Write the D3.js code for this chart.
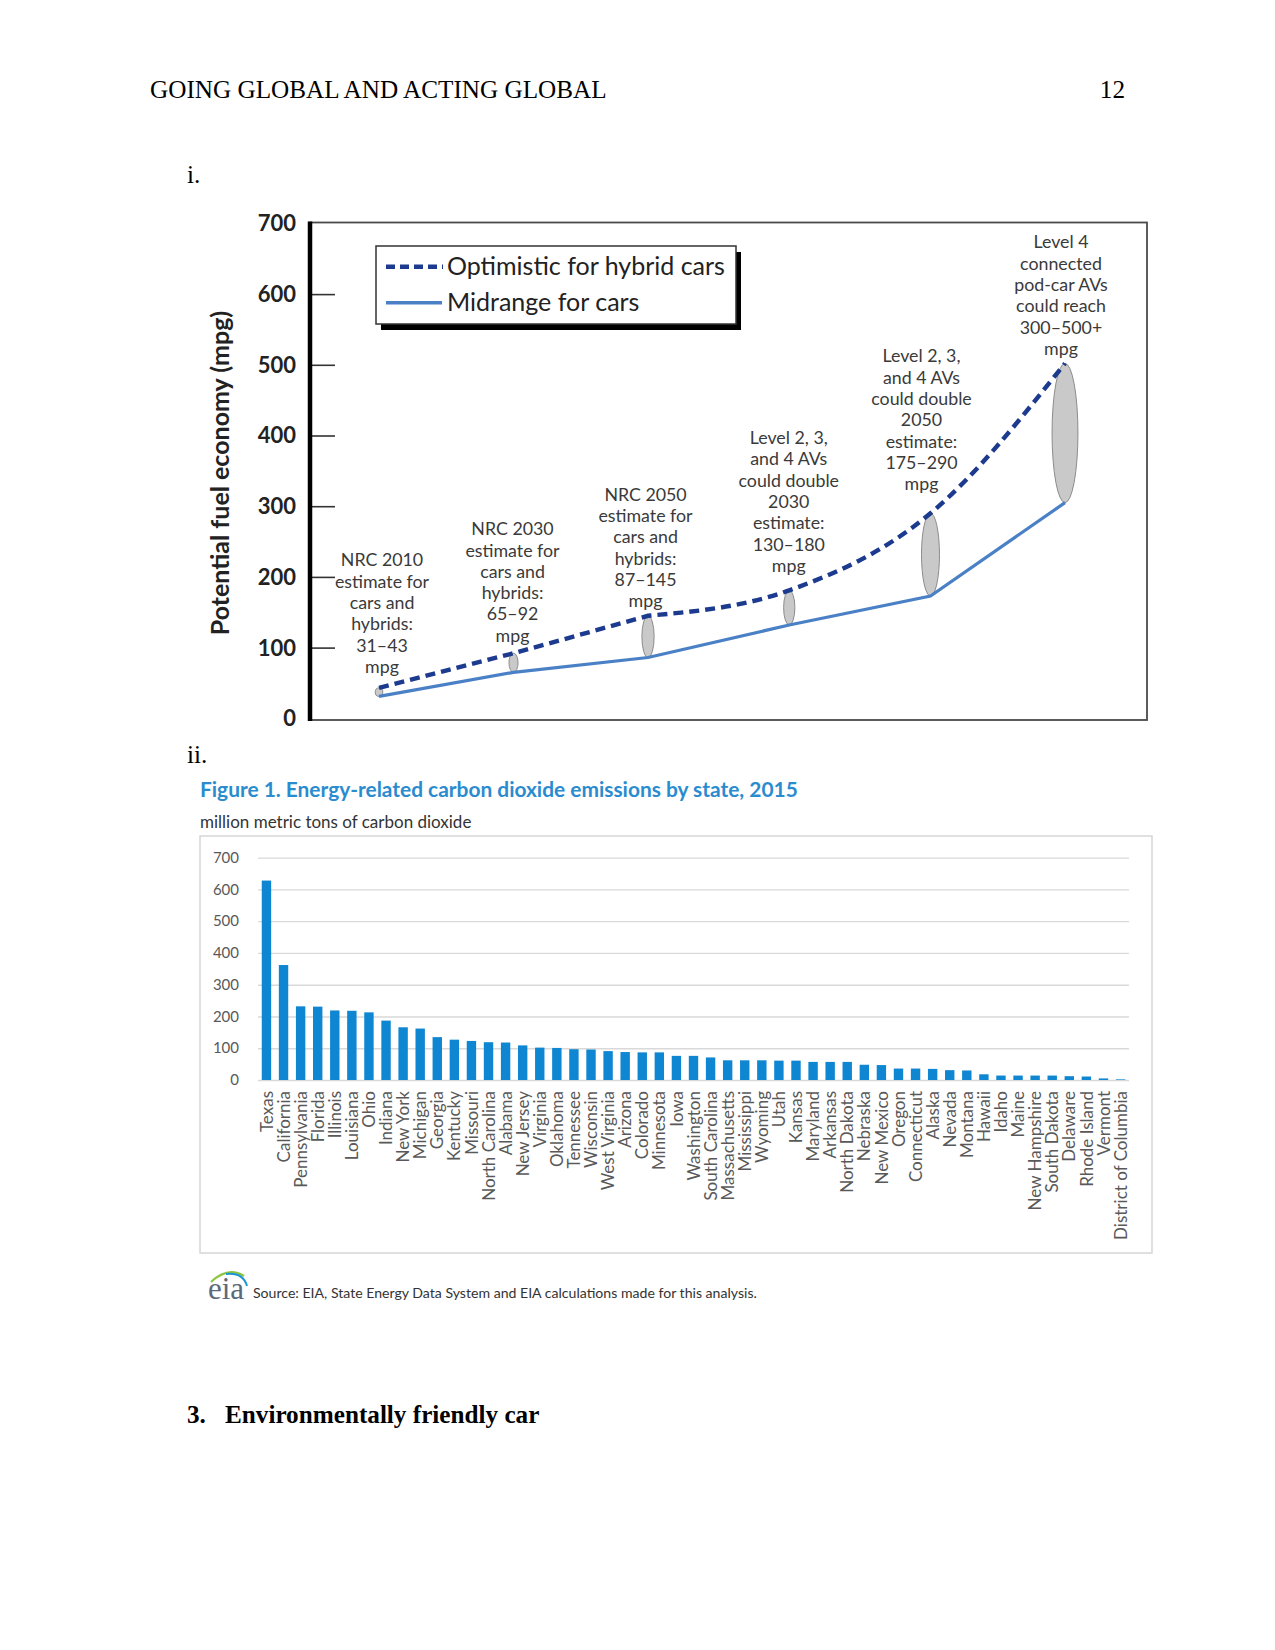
<!DOCTYPE html>
<html>
<head>
<meta charset="utf-8">
<script src="https://cdn.jsdelivr.net/npm/d3@7"></script>
<style>
  html, body { margin: 0; padding: 0; background: #fff; }
  svg { display: block; }
</style>
</head>
<body>
<script>
// ---------------- DATA ----------------
// Chart i: potential fuel economy
const stageX = [0, 1, 2, 3.05, 4.1, 5.1];              // relative position of each stage along the (unlabelled) x axis
const midrangeCars = [31, 65, 86, 132, 173, 305];       // mpg, solid line
const optimisticHybrid = [43, 92, 145, 181, 290, 502];  // mpg, dashed line
const fuelTicks = [0, 100, 200, 300, 400, 500, 600, 700];
const seriesNames = ["Optimistic for hybrid cars", "Midrange for cars"];
const stageNotes = [
  ["NRC 2010", "estimate for", "cars and", "hybrids:", "31\u201343", "mpg"],
  ["NRC 2030", "estimate for", "cars and", "hybrids:", "65\u201392", "mpg"],
  ["NRC 2050", "estimate for", "cars and", "hybrids:", "87\u2013145", "mpg"],
  ["Level 2, 3,", "and 4 AVs", "could double", "2030", "estimate:", "130\u2013180", "mpg"],
  ["Level 2, 3,", "and 4 AVs", "could double", "2050", "estimate:", "175\u2013290", "mpg"],
  ["Level 4", "connected", "pod-car AVs", "could reach", "300\u2013500+", "mpg"]
];

// Chart ii: CO2 emissions by state, 2015
const states = ["Texas","California","Pennsylvania","Florida","Illinois","Louisiana","Ohio","Indiana","New York","Michigan",
  "Georgia","Kentucky","Missouri","North Carolina","Alabama","New Jersey","Virginia","Oklahoma","Tennessee","Wisconsin",
  "West Virginia","Arizona","Colorado","Minnesota","Iowa","Washington","South Carolina","Massachusetts","Mississippi","Wyoming",
  "Utah","Kansas","Maryland","Arkansas","North Dakota","Nebraska","New Mexico","Oregon","Connecticut","Alaska",
  "Nevada","Montana","Hawaii","Idaho","Maine","New Hampshire","South Dakota","Delaware","Rhode Island","Vermont","District of Columbia"];
const emissions = [628, 362, 232, 231, 219, 218, 213, 187, 166, 162,
  135, 127, 123, 119, 118, 109, 102, 101, 97, 96,
  91, 88, 87, 87, 76, 76, 71, 62, 62, 62,
  61, 61, 57, 57, 57, 48, 47, 36, 36, 35,
  31, 30, 18, 14, 14, 14, 14, 12, 11, 5, 2];
const co2Ticks = [0, 100, 200, 300, 400, 500, 600, 700];

// ---------------- PAGE ----------------
const W = 1275, H = 1650;
const svg = d3.select("body").append("svg").attr("width", W).attr("height", H);
svg.append("rect").attr("width", W).attr("height", H).attr("fill", "#fff");

const serif = "'Liberation Serif','Times New Roman',serif";
const sans = "Lato,'Open Sans','Noto Sans',sans-serif";

svg.append("text").attr("x", 150).attr("y", 98).attr("font-family", serif).attr("font-size", 25.2)
  .text("GOING GLOBAL AND ACTING GLOBAL");
svg.append("text").attr("x", 1125).attr("y", 98).attr("text-anchor", "end").attr("font-family", serif).attr("font-size", 25.2)
  .text("12");
svg.append("text").attr("x", 187).attr("y", 183).attr("font-family", serif).attr("font-size", 25.2).text("i.");
svg.append("text").attr("x", 187).attr("y", 763).attr("font-family", serif).attr("font-size", 25.2).text("ii.");
const h3 = svg.append("text").attr("y", 1423).attr("font-family", serif).attr("font-size", 25.2).attr("font-weight", "bold");
h3.append("tspan").attr("x", 187).text("3.");
h3.append("tspan").attr("x", 225).text("Environmentally friendly car");

// ---------------- CHART i ----------------
const c1 = svg.append("g");
const f = { left: 310, right: 1147, top: 222.5, bottom: 720 };
const x1 = d3.scaleLinear().domain([0, 5.1]).range([379, 1065]);
const y1 = d3.scaleLinear().domain([0, 700]).range([718.3, 223.4]);

c1.append("rect").attr("x", f.left).attr("y", f.top).attr("width", f.right - f.left).attr("height", f.bottom - f.top)
  .attr("fill", "#fff").attr("stroke", "#4a4a4a").attr("stroke-width", 1.8);

// y axis ticks (pointing inward)
const yAxis1 = c1.append("g").attr("transform", `translate(${f.left},0)`)
  .call(d3.axisRight(y1).tickValues(fuelTicks).tickSize(25).tickFormat(""));
yAxis1.select(".domain").remove();
yAxis1.selectAll(".tick line").attr("stroke", "#333").attr("stroke-width", 1.6)
  .attr("opacity", d => (d === 0 || d === 700) ? 0 : 1);
c1.append("line").attr("x1", f.left).attr("x2", f.left).attr("y1", f.top - 1).attr("y2", f.bottom + 1)
  .attr("stroke", "#000").attr("stroke-width", 4.5);

c1.append("g").selectAll("text").data(fuelTicks).join("text")
  .attr("x", 296).attr("y", d => y1(d)).attr("dy", "0.36em").attr("text-anchor", "end")
  .attr("font-family", sans).attr("font-size", 22).attr("font-weight", 700).attr("fill", "#222")
  .text(d => d);

c1.append("text").attr("transform", `translate(229,473) rotate(-90)`)
  .attr("text-anchor", "middle").attr("font-family", sans).attr("font-size", 25).attr("font-weight", 700).attr("fill", "#222")
  .text("Potential fuel economy (mpg)");

// ellipses (range between midrange and optimistic)
c1.append("g").selectAll("ellipse").data(stageX).join("ellipse")
  .attr("cx", d => x1(d))
  .attr("cy", (d, i) => (y1(midrangeCars[i]) + y1(optimisticHybrid[i])) / 2)
  .attr("ry", (d, i) => (y1(midrangeCars[i]) - y1(optimisticHybrid[i])) / 2)
  .attr("rx", (d, i) => 3.2 + 0.14 * (y1(midrangeCars[i]) - y1(optimisticHybrid[i])) / 2)
  .attr("fill", "#c9c9c9").attr("stroke", "#8c8c8c").attr("stroke-width", 1);

const solidLine = d3.line().x((d, i) => x1(stageX[i])).y(d => y1(d));
c1.append("path").attr("d", solidLine(midrangeCars)).attr("fill", "none")
  .attr("stroke", "#4a80c6").attr("stroke-width", 3.2);

// dashed: straight through the NRC stages, then a smooth upward bend through the AV stages
const pts = optimisticHybrid.map((v, i) => [x1(stageX[i]), y1(v)]);
const straightPart = d3.line()(pts.slice(0, 3));
const curvedPart = d3.line().curve(d3.curveMonotoneX)(pts.slice(2)).replace(/^M[^A-Za-z]*/, "");
c1.append("path").attr("d", straightPart + (curvedPart.startsWith("C") || curvedPart.startsWith("L") ? curvedPart : "L" + curvedPart))
  .attr("fill", "none")
  .attr("stroke", "#1c3a8e").attr("stroke-width", 4.4).attr("stroke-dasharray", "10,6");

// stage annotations: per-note layout offsets (dx, gap between last baseline and dashed point)
const noteLayout = [[3, 15], [-1, 11.5], [-2.5, 8.5], [-0.5, 18.5], [-9, 23], [-4, 8.5]];
const lh = 21.3;
c1.append("g").selectAll("text").data(stageNotes).join("text")
  .attr("font-family", sans).attr("font-size", 17.8).attr("fill", "#3a3a3a").attr("text-anchor", "middle")
  .each(function (lines, i) {
    const cx = x1(stageX[i]) + noteLayout[i][0];
    const lastBase = y1(optimisticHybrid[i]) - noteLayout[i][1];
    const firstBase = lastBase - (lines.length - 1) * lh;
    d3.select(this).selectAll("tspan").data(lines).join("tspan")
      .attr("x", cx).attr("y", (l, k) => firstBase + k * lh).text(l => l);
  });

// legend
const lg = c1.append("g");
lg.append("rect").attr("x", 381).attr("y", 252).attr("width", 360).attr("height", 78).attr("fill", "#000");
lg.append("rect").attr("x", 376).attr("y", 246).attr("width", 360).attr("height", 78)
  .attr("fill", "#fff").attr("stroke", "#333").attr("stroke-width", 1.5);
lg.append("line").attr("x1", 386).attr("x2", 443).attr("y1", 266.7).attr("y2", 266.7)
  .attr("stroke", "#1c3a8e").attr("stroke-width", 4.4).attr("stroke-dasharray", "9,5");
lg.append("line").attr("x1", 386).attr("x2", 442).attr("y1", 302.7).attr("y2", 302.7)
  .attr("stroke", "#4a80c6").attr("stroke-width", 3.6);
lg.selectAll("text.lgt").data(seriesNames).join("text").attr("class", "lgt")
  .attr("x", 447).attr("y", (d, i) => 274.5 + i * 36)
  .attr("font-family", sans).attr("font-size", 25).attr("fill", "#222").text(d => d);

// ---------------- CHART ii ----------------
const c2 = svg.append("g");
c2.append("text").attr("x", 200).attr("y", 797).attr("font-family", sans).attr("font-size", 20.9).attr("font-weight", 700)
  .attr("fill", "#2a8ccf").text("Figure 1. Energy-related carbon dioxide emissions by state, 2015");
c2.append("text").attr("x", 200).attr("y", 828).attr("font-family", sans).attr("font-size", 17)
  .attr("fill", "#333").text("million metric tons of carbon dioxide");
c2.append("rect").attr("x", 200).attr("y", 836).attr("width", 952).attr("height", 417)
  .attr("fill", "#fff").attr("stroke", "#d6d6d6").attr("stroke-width", 1.5);

const x2 = d3.scaleBand().domain(states).range([258, 1129]).paddingInner(0.45).paddingOuter(0.22);
const y2 = d3.scaleLinear().domain([0, 700]).range([1080, 857.7]);

const grid = c2.append("g").attr("transform", "translate(258,0)")
  .call(d3.axisLeft(y2).tickValues(co2Ticks).tickSize(-871).tickFormat(""));
grid.select(".domain").remove();
grid.selectAll(".tick line").attr("stroke", "#d9d9d9").attr("stroke-width", 1.3);

c2.append("g").selectAll("text").data(co2Ticks).join("text")
  .attr("x", 239).attr("y", d => y2(d)).attr("dy", "0.35em").attr("text-anchor", "end")
  .attr("font-family", sans).attr("font-size", 15).attr("fill", "#595959").text(d => d);

c2.append("g").selectAll("rect").data(emissions).join("rect")
  .attr("x", (d, i) => x2(states[i])).attr("width", x2.bandwidth())
  .attr("y", d => y2(d)).attr("height", d => y2(0) - y2(d))
  .attr("fill", "#0f86d1");

c2.append("g").selectAll("text").data(states).join("text")
  .attr("transform", d => `translate(${x2(d) + x2.bandwidth() / 2},1091) rotate(-90)`)
  .attr("dy", "0.36em").attr("text-anchor", "end")
  .attr("font-family", sans).attr("font-size", 17).attr("fill", "#595959").text(d => d);

// source line with eia mark
c2.append("text").attr("x", 208).attr("y", 1299).attr("font-family", serif).attr("font-size", 31)
  .attr("fill", "#5a6a7a").text("eia");
c2.append("path").attr("d", "M211,1282 Q228,1266 244,1276").attr("fill", "none").attr("stroke", "#8cc63e").attr("stroke-width", 2.2);
c2.append("path").attr("d", "M226,1274 Q243,1272 247,1286").attr("fill", "none").attr("stroke", "#1b96d3").attr("stroke-width", 2);
c2.append("text").attr("x", 253).attr("y", 1298).attr("font-family", sans).attr("font-size", 14.1)
  .attr("fill", "#333").text("Source: EIA, State Energy Data System and EIA calculations made for this analysis.");
</script>
</body>
</html>
